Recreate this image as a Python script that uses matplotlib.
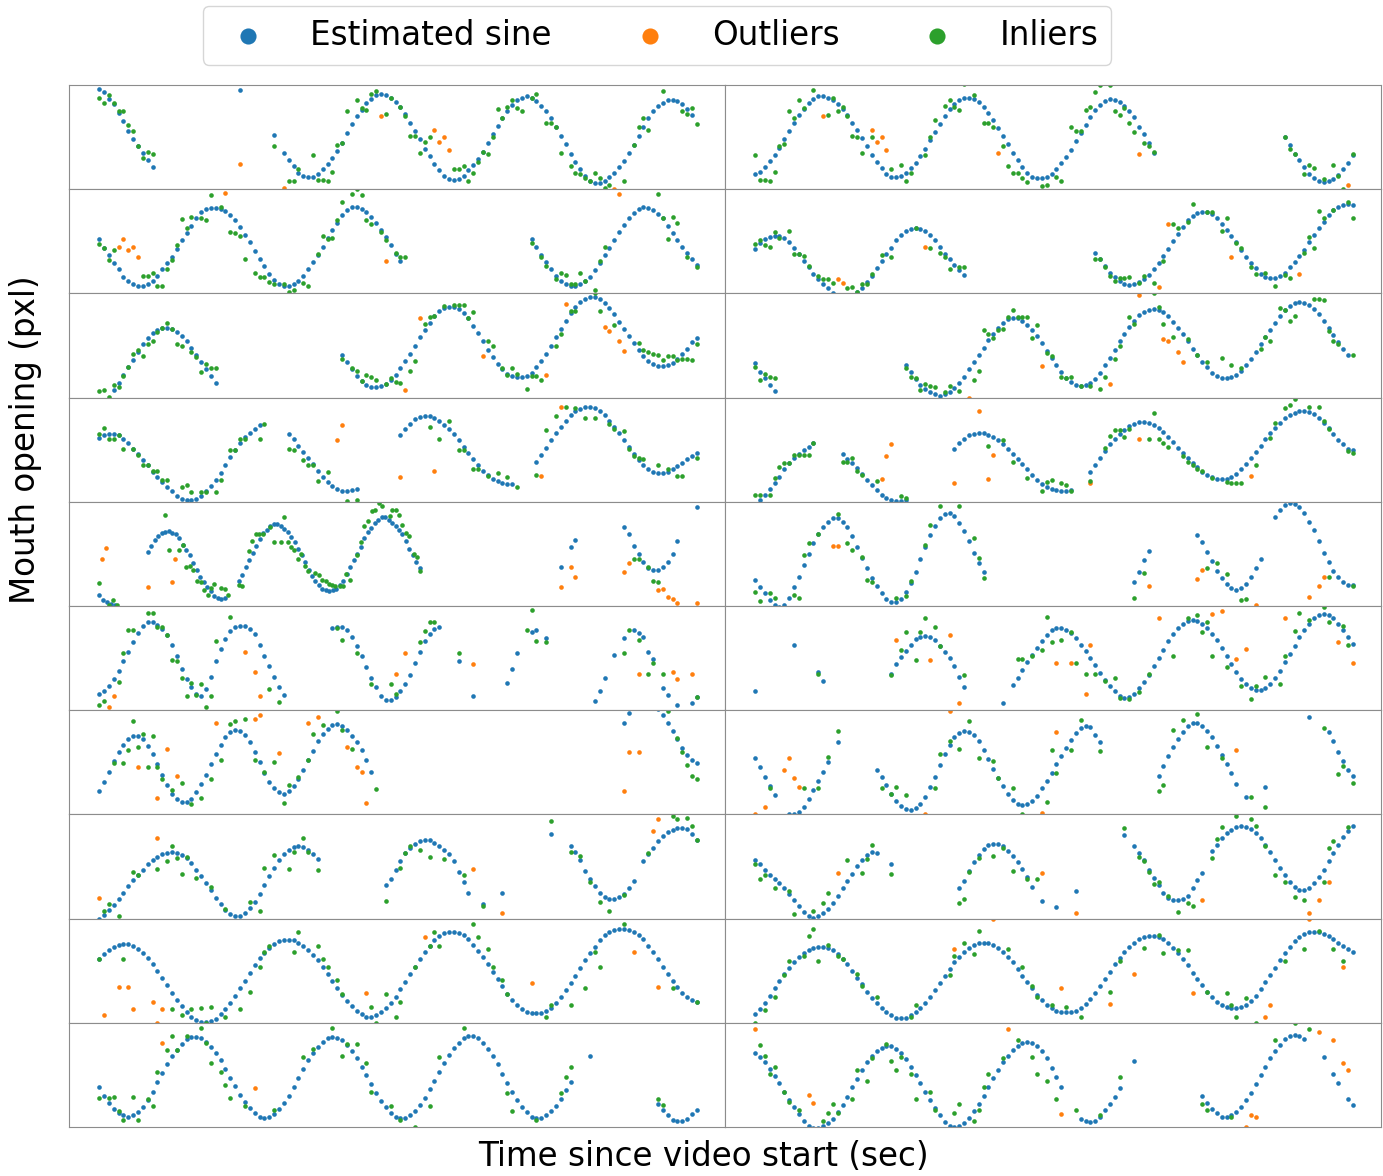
import numpy as np
import matplotlib
matplotlib.use("Agg")
import matplotlib.pyplot as plt

# frames are sampled at 30 fps; values are mouth opening in pixels
FPS = 30
N_ROWS, N_COLS = 10, 2

# estimated sine per panel (row-major): (first frame, values[, frame step]),
# None = no estimate at that frame
SINE_SEGMENTS = [
    # row 0, left
    [(0, [96, 93, 87, 82, 73, 65, 56, 48, 41, 35, 28, 21]), (29, [95]),
     (36, [52, None, 35, 28, 22, 16, 13, 12, 12, 15, 19, 24, 30, 37, 44, 54, 63, 70, 76, 83,
           87, 90, 91, 90, 88, 84, 79, 72, 64, 56, 48, 39, 32, 24, 18, 13, 10, 9, 10, 13,
           18, 23, 29, 36, 44, 53, 61, 68, 75, 81, 86, 88, 89, 88, 85, 80, 75, 68, 60, 51,
           43, 34, 26, 19, 13, 8, 6, 6, 8, 12, 16, 21, 27, 35, 42, 51, 60, 68, 75, 80,
           83, 86, 86, 85, 82, 77, 71])],
    # row 0, right
    [(0, [15, 17, 21, 27, 33, 40, 48, 56, 64, 71, 77, 83, 87, 89, 89, 88, 86, 82, 77, 71,
          64, 57, 49, 41, 33, 26, 20, 15, 12, 12, 13, 16, 20, 25, 32, 39, 47, 55, 63, 70,
          77, 82, 86, 88, 88, 87, 84, 79, 73, 66, 59, 51, 43, 35, 28, 21, 16, 12, 11, 11,
          12, 15, 19, 25, 31, 38, 46, 54, 62, 69, 76, 81, 85, 87, 86, 84, 80, 75, 69, 60,
          53, 44, 35]),
     (109, [50, 42, 34, 28, 21, 15, 11, 8, 7, 8, 10, 14, 19, 25, 33])],
    # row 1, left
    [(0, [52, 44, 37, 29, 23, 16, 12, 9, 7, 7, 9, 12, 17, 23, 29, 35, 43, 51, 58, 65,
          72, 78, 81, 82, 82, 81, 79, 75, 70, 64, 56, 49, 41, 33, 26, 19, 13, 9, 7, 7,
          9, 12, 17, 23, 30, 37, 45, 53, 61, 68, 75, 80, 83, 83, 81, 78, 73, 68, 61, 54,
          46, 38, 31]),
     (89, [52, 45, 37, 30, 23, 17, 12, 9, 7, 7, 9, 12, 16, 22, 29, 37, 44, 51, 59, 66,
           72, 77, 81, 83, 82, 80, 76, 72, 65, 58, 51, 45, 39, 33, 27])],
    # row 1, right
    [(0, [43, 48, 52, 54, 55, 55, 53, 49, 44, 38, 31, 25, 19, 14, 9, 5, 0, -3, -5, -5,
          -3, 1, 5, 11, 17, 24, 31, 38, 44, 51, 56, 60, 62, 63, 62, 60, 56, 51, 45, 38,
          33, 27, 22, 18]),
     (70, [39, 33, 26, 20, 16, 12, 9, 8, 9, 11, 14, 18, 23, 29, 36, 43, 50, 57, 64, 70,
           74, 77, 78, 78, 76, 72, 67, 61, 55, 49, 42, 35, 29, 24, 19, 16, 15, 15, 17, 20,
           25, 30, 36, 42, 49, 56, 63, 69, 75, 80, 83, 85, 86, 85])],
    # row 2, left
    [(3, [7, 14, 22, 29, 36, 44, 51, 57, 62, 65, 67, 67, 66, 63, 59, 54, 48, 41, 34, 27,
          21, 14]),
     (50, [41, 34, 27, 21, 16, 12, 10, 10, 11, 13, 17, 22, 28, 35, 42, 50, 58, 65, 72, 78,
           83, 86, 87, 87, 85, 81, 76, 69, 62, 54, 46, 39, 32, 27, 23, 21, 20, 20, 21, 24,
           29, 35, 42, 50, 58, 66, 74, 81, 87, 92, 95, 97, 97, 95, 91, 86, 80, 73, 66, 59,
           52, 46, 40, 35, 32, 30, 30, 31, 33, 37, 42, 47, 53, 57])],
    # row 2, right
    [(0, [33, 25, 19, 12, 6]),
     (31, [31, 25, 18, 12, 8, 5, 3, 2, 3, 5, 9, 14, 20, 27, 34, 41, 48, 55, 61, 67,
           72, 75, 76, 76, 74, 70, 65, 59, 52, 45, 38, 31, 25, 19, 15, 12, 11, 12, 14, 18,
           24, 31, 38, 46, 54, 61, 68, 74, 79, 82, 84, 85, 84, 82, 78, 73, 67, 61, 54, 47,
           41, 34, 29, 24, 21, 19, 19, 20, 22, 26, 31, 37, 44, 51, 58, 65, 72, 78, 84, 88,
           91, 92, 91, 89, 85, 80, 74, 67, 60, 53, 47, 41])],
    # row 3, left
    [(0, [61, 64, 65, 65, 64, 60, 56, 51, 46, 40, 35, 29, 24, 19, 14, 10, 6, 3, 2, 2,
          3, 6, 10, 15, 21, 28, 35, 43, 50, 56, 62, 66, 70, 74]),
     (39, [65, 60, 54, 48, 42, 36, 30, 24, 19, 15, 12, 10, 10, 11, 12]),
     (62, [64, 70, 75, 79, 81, 82, 82, 80, 78, 74, 70, 65, 59, 53, 47, 41, 35, 30, 26, 22,
           20, 18, 17, 17]),
     (90, [38, 45, 52, 59, 66, 72, 78, 83, 87, 89, 91, 91, 90, 87, 83, 78, 72, 66, 59, 53,
           46, 40, 35, 31, 29, 28, 28, 29, 31, 34, 37, 41, 44, 47])],
    # row 3, right
    [(1, [2, 7, 12, 18, 24, 31, 37, 42, 46, 50, 53, 56]),
     (18, [46, 41, 37, 32, 27, 21, 16, 11, 7, 4, 2, 1, 1, 2]),
     (41, [51, 56, 60, 64, 65, 66, 66, 64, 62, 59, 55, 51, 46, 41, 36, 31, 26, 21, 17, 14,
           12, 11, 10, 10, 11]),
     (69, [29, 35, 42, 49, 55, 60, 65, 69, 73, 75, 77, 77, 76, 74, 71, 67, 62, 57, 52, 47,
           42, 37, 33, 29, 26, 24, 22, 22, 22, 24, 27, 31, 36, 42, 48, 54, 60, 66, 71, 76,
           80, 83, 85, 87, 87, 86, 84, 80, 76, 71, 65, 59, 55, 51, 50])],
    # row 4, left
    [(0.03, [11, 6, 4, 2, 1], 0.8),
     (10.04, [52, 58, 63, 67, 70, 71, 72, 70, 69, 65, 59, 54, 49, 41, 35, 28, 23, 18, 14, 10,
              8, 7, 8], 0.717),
     (28.77, [24, 30, 37, 44, 51, 58, 64, 70, 73, 77, 79, 79, 77, 74, 71, 66, 61, 55, 49, 42,
              35, 29, 24, 20, 16, 15, 14, 15, 16, 20, 24, 31, 37, 44, 50, 57, 65, 71, 75, 80,
              83, 85, 85, 83, 80, 77, 73, 69, 62, 55, 49, 42, 36], 0.716),
     (95, [37, None, 57, 63]),
     (108, [76, 69, 58, 50, 42, 36, 35, 35, 37, 42, 50, 62]), (123, [95])],
    # row 4, right
    [(0, [25, 18, 12, 6, 1, -1, 1, 8, 18, 28, 39, 50, 60, 69, 76, 81, 84, 84, 81, 76,
          67, 57, 46, 36, 27, 19, 12, 7, 4, 4, 7, 13, 22, 33, 45, 57, 68, 77, 84, 88,
          89, 86, 80, 72, 62, 51, 41, 33]),
     (78, [23, 33, 44, 53]),
     (91, [68, 61, 52, 43, 34, 27, 21, 17, 15, 17, 21, 28, 36, 45]),
     (107, [85, 92, 97, 99, 98, 95, 89, 81, 73, 62, 51, 42, 34, 28, 23, 20, 20])],
    # row 5, left
    [(0, [16, 18, 23, 30, 38, 47, 56, 65, 74, 81, 85, 85, 82, 78, 72, 63, 52, 40, 30, 22,
          16, 14, 20, 32, 47, 59, 68, 76, 80, 81, 81, 78, 73, 63, 52, 42, 32, 22, 15]),
     (48, [79, 80, 80, 77, 70, 62, 52, 41, 31, 22, 14, 10, 10, 13, 18, 25, 34, 45, 56, 66,
           73, 78, 80]),
     (74, [47]), (77, [14]),
     (84, [26, 40, 55, None, None, 75, 77, None, 69]),
     (102, [9, 18, 31, None, 53, None, 69, None, 77, 74, 70, 56, 49, None, 21, 15, None, 5,
            None, None, 7, 13])],
    # row 5, right
    [(0, [18]), (8, [63]), (13, [37, 28]),
     (28, [35, 44, 51, 57, 63, 68, 70, 71, 70, 67, 62, 56, 50, 42, 32, 22]),
     (51, [7]),
     (53, [24, 31, 39, 46, 53, 60, 66, 72, 77, 79, 79, 77, 74, 69, 63, 57, 50, 43, 36, 29,
           23, 18, 14, 12, 13, 16, 21, 27, 34, 42, 50, 58, 66, 73, 79, 83, 86, 87, 86, 83,
           79, 73, 67, 60, 52, 44, 37, 30, 25, 21, 19, 19, 21, 25, 31, 38, 46, 54, 62, 70,
           77, 83, 88, 91, 92, 91, 88, 83, 77, 70, 64])],
    # row 6, left
    [(0, [22, 31, 41, 51, 60, 67, 72, 75, 75, 72, 66, 58, 48, 38, 28, 20, 15, 12, 12, 15,
          21, 29, 38, 48, 58, 67, 74, 79, 81, 80, 76, 69, 60, 50, 40, 31, 25, 21, 20, 22,
          27, 34, 43, 52, 61, 70, 77, 82, 86, 87, 85, 81, 75, 69, 62, 52, 41]),
     (108, [88, 97, 102, 105, 107, 107, 105, 101, 95, 88, 80, 72, 64, 57, 52, 49])],
    # row 6, right
    [(0, [54, 45, 36, 27, 19, None, None, 0, 0, 2, 7, 15, 23, 32, 41, 50, None, 69]),
     (25, [43, 36, 28, 20, 13, 8, 5, 4, 6, 10, 17, 26, 36, 47, 58, 67, 74, 78, 80, 79,
           76, 70, 62, 53, 44, 35, 27, 20, 14, 10, 9, 10, 13, 18, 25, 32, 40, 48, 56, 64,
           71, 78, 83, 85, 84, 76, 69]),
     (83, [37, 46, 56, 65, 72, 79, 85, 88, 88, 85, 80, 74, 66, 57, 48, 40, 29, None, 17]),
     (105, [26]),
     (114, [93, None, None, None, 79, 70, 60, 51, 43, 37])],
    # row 7, left
    [(0, [0, 3, 8, 13, 19, 25, 31, 37, 42, 47, 52, 56, 59, 62, 63, 64, 63, 61, 58, 53,
          47, 41, 34, 27, 20, 14, 8, 4, 2, 2, 5, 10, 16, 24, 32, 41, 49, 56, 62, 66,
          69, 70, 69, 66, 62, 57]),
     (59, [32, 38, 47, 55, 63, 68, 72, 74, 75, 75, 73, 70, 66, 62, 55, 45, 35, 25, None, None,
           14]),
     (83, [25]),
     (93, [81, None, None, None, 70, 64, 56, 46, 38, 31, 25, 21, 19, 19, 21, 24, 29, 36]),
     (112, [55, 62, 68, 74, 79, 83, 85, 87, 87, 86, 81, 75])],
    # row 7, right
    [(0, [56, 52, 47, 42, 38, 34, 29, 24, 18, 12, 6, 2, 1, 2, 5, 9, 15, 22, 29, 36,
          43, 50, 56, 61, 64, 63]),
     (28, [52]),
     (42, [29, 36, 46, 54, 61, 67, 71, 72, 72, 70, 65, 60, 54, 48, 40, 30, None, 17, None, None,
           11, None, None, None, 26]),
     (76, [80, None, 70, 63, 56, 47, 39, 32, 25, 20, 18, 18, 19, 22, 29, 37, 44]),
     (94, [65, 71, 77, 82, 85, 88, 89, 88, 86, 82, 77, 71, 64, 56, 49, 42, 35, 30, 27, 27,
           29, 34, 40, 47, 55, 63, 71, 78, 84, 89])],
    # row 8, left
    [(0, [61, 66, 70, 73, 75, 76, 76, 74, 71, 67, 62, 56, 50, 43, 36, 29, 22, 16, 10, 6,
          3, 1, 1, 2, 4, 8, 13, 19, 26, 33, 40, 48, 55, 62, 67, 72, 76, 78, 79, 79,
          79, 77, 74, 70, 65, 60, 54, 47, 40, 33, 27, 21, 16, 11, 8, 6, 6, 7, 10, 14,
          19, 25, 32, 39, 47, 54, 61, 68, 74, 79, 83, 86, 87, 87, 86, 84, 80, 75, 69, 63,
          56, 49, 42, 35, 28, 22, 17, 13, 10, 9, 9, 9, 11, 14, 19, 25, 31, 38, 45, 53,
          60, 67, 73, 79, 84, 87, 89, 90, 90, 89, 87, 84, 80, 74, 68, 61, 54, 47, 40, 34,
          29, 25, 22, 20])],
    # row 8, right
    [(0, [8, 13, 19, 26, 33, 40, 47, 53, 58, 63, 67, 70, 72, 73, 73, 72, 70, 66, 61, 56,
          50, 43, 37, 30, 24, 19, 14, 10, 7, 5, 5, 5, 7, 10, 14, 19, 25, 31, 38, 45,
          52, 58, 63, 68, 72, 75, 77, 77, 77, 75, 72, 68, 63, 58, 52, 45, 39, 33, 27, 22,
          17, 14, 11, 10, 10, 10, 11, 14, 18, 23, 29, 35, 42, 49, 56, 62, 68, 73, 77, 80,
          82, 83, 83, 82, 80, 77, 72, 67, 61, 55, 48, 42, 36, 30, 25, 20, 17, 15, 14, 14,
          15, 17, 21, 26, 32, 39, 46, 53, 60, 67, 73, 78, 82, 85, 87, 87, 87, 85, 83, 80,
          77, 74, 71, 68])],
    # row 9, left
    [(0, [38, 30, 23, 17, 13, 11, 10, 11, 14, 19, 26, 34, 43, 52, 60, 68, 74, 80, 84, 86,
          86, 85, 82, 77, 71, 64, 56, 47, 39, 31, 24, 18, 13, 10, 9, 10, 12, 17, 23, 30,
          38, 47, 56, 64, 71, 77, 82, 85, 86, 85, 83, 79, 73, 66, 58, 50, 41, 33, 25, 19,
          13, 10, 9, 9, 11, 15, 21, 28, 36, 44, 53, 61, 69, 76, 81, 85, 87, 87, 85, 81,
          75, 68, 60, 51, 42, 34, 26, 19, 14, 10, 9, 9, 11, 15, 20, 27, 35, 43]),
     (101, [68]),
     (115, [22, 16, 11, 7, 6, 6, 8, 12, 16])],
    # row 9, right
    [(0, [71, 67, 62, 56, 49, 42, 34, 26, 19, 12, 6, 1, -1, -1, 1, 4, 8, 14, 21, 29,
          38, 46, 55, 62, 68, 73, 76, 78, 78, 75, 71, 65, 58, 50, 42, 34, 26, 18, 11, 5,
          1, 0, 1, 4, 9, 15, 22, 30, 38, 47, 55, 62, 68, 74, 78, 81, 82, 81, 78, 73,
          66, 57, 48, 38]),
     (67, [8, 6, 5, 6, 10, 16, 22, 29, 37]),
     (78, [63]),
     (92, [30, 23, 17, 13, 10, 10, 11, 14, 19, 26, 33, 41, 50, 58, 66, 73, 79, 84, 87, 88,
           87, 84, None, None, None, 67, None, 51, 42, None, 27, 21])],
]

# measured points kept by the fit: (frame, value)
INLIER_POINTS = [
    [(0, 88), (1, 83), (2, 90), (3, 83), (4, 75), (5, 75), (6, 62), (7, 56), (8, 41), (9, 30),
     (10, 36), (11, 34), (36, 41), (39, 8), (40, 8), (41, 19), (44, 33), (45, 9), (46, 9),
     (47, 8), (48, 17), (49, 42), (50, 44), (51, 75), (53, 86), (54, 78), (55, 76), (56, 91),
     (57, 94), (59, 72), (60, 88), (62, 79), (63, 70), (64, 51), (65, 51), (66, 35), (67, 45),
     (68, 50), (73, 19), (74, 19), (75, 22), (76, 8), (77, 16), (78, 26), (79, 36), (80, 34),
     (81, 50), (82, 77), (83, 68), (84, 79), (85, 86), (86, 78), (87, 75), (88, 102), (89, 88),
     (90, 91), (92, 64), (93, 64), (94, 60), (95, 35), (97, 22), (98, 16), (99, 15), (100, 11),
     (101, 8), (102, 16), (103, 11), (104, 1), (105, 4), (108, 8), (110, 42), (111, 60),
     (112, 68), (113, 57), (116, 94), (117, 102), (119, 102), (120, 75), (121, 72), (122, 78),
     (123, 63)],
    [(0, 33), (1, 9), (2, 9), (3, 8), (4, 17), (5, 41), (6, 43), (7, 75), (8, 68), (9, 86),
     (10, 78), (12, 95), (15, 71), (16, 88), (17, 75), (18, 79), (19, 70), (20, 51), (21, 50),
     (22, 35), (24, 50), (28, 19), (30, 23), (31, 8), (32, 16), (35, 33), (36, 50), (37, 66),
     (39, 80), (40, 86), (41, 79), (42, 76), (43, 101), (45, 90), (47, 64), (48, 64), (49, 60),
     (51, 41), (52, 22), (53, 16), (54, 16), (55, 11), (56, 7), (59, 3), (60, 4), (62, 12),
     (63, 8), (65, 60), (66, 56), (67, 56), (68, 76), (69, 79), (70, 93), (71, 100), (73, 100),
     (74, 75), (75, 71), (76, 78), (77, 64), (78, 55), (80, 44), (81, 41), (82, 36), (109, 50),
     (110, 39), (111, 34), (113, 15), (114, 23), (115, 20), (117, 10), (119, 23), (120, 13),
     (121, 0), (123, 34)],
    [(0, 47), (1, 44), (2, 32), (3, 42), (9, 17), (10, 17), (11, 20), (12, 7), (13, 7), (14, 23),
     (15, 32), (16, 46), (17, 71), (18, 63), (19, 73), (21, 72), (22, 70), (23, 94), (25, 83),
     (27, 59), (28, 58), (29, 55), (30, 33), (32, 20), (33, 16), (34, 16), (35, 11), (36, 9),
     (38, 9), (39, 1), (40, 3), (42, 10), (43, 7), (45, 38), (46, 55), (47, 52), (48, 53),
     (49, 70), (50, 88), (52, 95), (53, 100), (54, 94), (55, 70), (56, 67), (58, 59), (59, 51),
     (61, 39), (62, 35), (63, 35), (89, 48), (91, 35), (92, 26), (94, 14), (95, 20), (96, 18),
     (97, 9), (98, 9), (99, 20), (100, 12), (102, 3), (103, 31), (104, 45), (115, 95), (116, 72),
     (117, 52), (118, 73), (119, 68), (121, 35), (123, 25)],
    [(0, 47), (1, 51), (2, 46), (3, 45), (4, 59), (5, 53), (7, 60), (8, 38), (9, 38), (10, 36),
     (11, 26), (13, 17), (14, 14), (15, 14), (16, 10), (19, 5), (20, 6), (21, 1), (22, 9),
     (23, 9), (24, 19), (26, 37), (28, 35), (33, 63), (36, 44), (38, 39), (39, 35), (40, 23),
     (42, 25), (43, 25), (70, 33), (71, 33), (72, 25), (73, 17), (74, 12), (75, 15), (76, 15),
     (77, 16), (79, 10), (80, 17), (82, 10), (84, 31), (86, 67), (87, 63), (89, 69), (90, 86),
     (93, 78), (94, 78), (96, 60), (97, 72), (99, 48), (100, 44), (102, 25), (103, 19),
     (105, 20), (107, 7), (109, 18), (110, 15), (113, 39), (114, 54), (115, 44), (116, 79),
     (117, 72), (119, 80), (122, 88), (123, 72)],
    [(0, 6), (1, 7), (2, 1), (3, 12), (4, 10), (5, 21), (6, 29), (7, 42), (8, 46), (9, 40),
     (10, 51), (11, 54), (12, 63), (13, 67), (14, 72), (15, 66), (16, 51), (17, 50), (19, 44),
     (20, 39), (21, 25), (22, 32), (23, 28), (24, 28), (50, 37), (52, 28), (53, 26), (54, 16),
     (55, 22), (56, 20), (57, 17), (59, 13), (60, 19), (61, 15), (62, 14), (64, 26), (65, 35),
     (67, 71), (68, 77), (69, 78), (71, 88), (73, 89), (74, 89), (75, 89), (76, 76), (77, 82),
     (80, 54), (81, 50), (83, 28), (84, 22), (85, 28), (86, 23), (88, 8), (89, 21), (90, 21),
     (91, 17), (94, 50), (95, 61), (97, 83), (98, 83), (102, 100), (103, 83), (106, 70),
     (111, 52), (112, 46), (113, 44), (114, 42), (115, 41), (116, 36), (117, 40), (118, 40),
     (119, 36), (120, 37), (121, 37), (122, 36), (123, 51)],
    [(0, 29), (1, 17), (2, 23), (3, 20), (4, 19), (31, 28), (32, 20), (33, 19), (34, 7),
     (35, 13), (36, 11), (37, 10), (39, 5), (40, 11), (42, 6), (45, 17), (46, 26), (47, 65),
     (48, 61), (49, 57), (50, 65), (51, 66), (52, 77), (53, 84), (54, 77), (55, 77), (56, 77),
     (57, 57), (58, 70), (60, 43), (61, 40), (63, 20), (64, 19), (65, 20), (67, 11), (69, 11),
     (71, 8), (72, 20), (74, 37), (75, 50), (77, 77), (78, 71), (82, 100), (83, 87), (84, 71),
     (86, 58), (89, 56), (91, 41), (93, 34), (96, 38), (98, 31), (100, 28), (104, 47),
     (105, 58), (106, 54), (108, 86), (109, 84), (110, 74), (111, 78), (115, 95), (116, 95),
     (117, 94), (118, 64), (119, 54), (120, 51), (123, 41)],
    [(0, 65), (1, 71), (2, 60), (3, 60), (4, 64), (5, 51), (7, 51), (8, 45), (9, 35), (10, 35),
     (11, 30), (12, 30), (13, 21), (14, 21), (17, 14), (18, 16), (19, 9), (21, 9), (22, 9),
     (24, 9), (25, 21), (27, 50), (28, 50), (29, 60), (30, 60), (33, 60), (34, 75), (39, 51),
     (40, 50), (42, 40), (43, 35), (44, 35), (45, 20), (47, 29), (51, 1), (53, 2), (68, 72),
     (70, 60), (72, 78), (74, 50), (75, 50), (77, 31), (78, 31), (80, 25), (82, 28), (84, 24),
     (86, 14), (90, 26), (92, 69), (94, 82), (96, 91), (98, 90), (100, 80), (102, 80),
     (105, 75), (106, 70), (108, 68), (109, 51), (110, 44), (111, 42), (112, 41), (115, 35),
     (117, 31), (119, 25), (120, 25), (123, 42)],
    [(0, 7), (1, 7), (3, 7), (4, 23), (5, 33), (6, 37), (7, 37), (8, 45), (9, 45), (10, 45),
     (11, 45), (12, 56), (18, 38), (19, 38), (20, 42), (21, 30), (22, 26), (25, 20), (30, 6),
     (31, 4), (48, 54), (51, 59), (53, 38), (56, 23), (59, 10), (60, 19), (61, 21), (63, 18),
     (64, 16), (65, 10), (69, 20), (72, 52), (73, 63), (74, 69), (75, 69), (76, 62), (77, 70),
     (81, 60), (82, 85), (83, 60), (84, 56), (85, 53), (88, 44), (89, 38), (90, 35), (91, 31),
     (92, 30), (94, 23), (97, 19), (98, 18), (99, 18), (100, 18), (103, 35), (106, 61),
     (107, 76), (109, 90), (110, 93), (111, 99), (114, 91), (116, 91), (117, 78), (118, 70),
     (122, 49), (123, 47)],
    [(0.0, 22), (2.0, 1), (2.9, 6), (3.6, 1), (13.6, 87), (14.4, 54), (16.4, 54), (17.2, 59),
     (17.9, 37), (18.6, 38), (19.4, 35), (20.2, 24), (20.9, 23), (21.6, 15), (22.3, 11),
     (23.0, 17), (23.6, 21), (25.1, 17), (25.8, 16), (26.6, 11), (28.8, 20), (29.5, 19),
     (30.8, 53), (31.5, 62), (32.2, 69), (32.9, 69), (33.7, 69), (35.2, 76), (35.9, 61),
     (37.4, 61), (38.1, 85), (38.8, 61), (39.5, 57), (40.2, 54), (40.9, 45), (41.6, 50),
     (42.4, 38), (43.0, 34), (44.4, 32), (45.2, 30), (45.9, 25), (46.6, 24), (47.3, 21),
     (48.0, 20), (48.6, 19), (49.5, 19), (50.2, 19), (50.9, 31), (51.6, 25), (53.0, 49),
     (53.8, 61), (54.6, 77), (55.3, 82), (56.1, 91), (56.8, 92), (57.6, 99), (58.3, 96),
     (59.8, 86), (60.3, 92), (61.0, 92), (61.7, 87), (62.4, 78), (63.1, 70), (63.8, 67),
     (64.7, 50), (65.4, 47), (66.1, 34), (110, 45), (111, 45), (113, 37), (114, 24),
     (115, 23)],
    [(0, 13), (1, 5), (3, 12), (4, 8), (8, 11), (9, 8), (10, 49), (11, 60), (13, 69), (17, 88),
     (19, 60), (20, 54), (22, 47), (23, 25), (24, 23), (29, 8), (31, 10), (32, 24), (35, 59),
     (36, 78), (38, 96), (42, 96), (45, 65), (46, 46), (47, 27), (78, 8), (80, 32), (93, 36),
     (95, 41), (97, 31), (100, 6), (101, 7), (118, 28), (123, 19)],
    [(0, 5), (1, 9), (4, 27), (5, 55), (6, 77), (7, 77), (10, 93), (11, 93), (12, 80), (13, 80),
     (14, 72), (15, 48), (16, 47), (17, 31), (18, 14), (19, 26), (20, 15), (21, 25), (22, 3),
     (23, 14), (24, 66), (27, 89), (35, 20), (37, 8), (49, 79), (50, 67), (53, 55), (56, 25),
     (60, 25), (61, 16), (66, 65), (67, 76), (68, 85), (69, 85), (74, 55), (88, 77), (89, 96),
     (90, 66), (92, 65), (108, 55), (109, 77), (111, 67), (113, 35), (114, 45), (116, 35),
     (123, 13)],
    [(13, 35), (28, 34), (30, 58), (31, 75), (33, 48), (34, 75), (35, 88), (37, 80), (38, 62),
     (43, 34), (54, 49), (55, 49), (57, 52), (59, 58), (60, 89), (61, 65), (63, 67), (65, 75),
     (66, 45), (68, 35), (70, 35), (72, 28), (74, 31), (75, 12), (77, 11), (79, 17), (81, 35),
     (86, 52), (89, 88), (91, 91), (92, 75), (93, 85), (94, 52), (97, 41), (100, 23), (102, 11),
     (103, 23), (105, 32), (108, 25), (109, 52), (111, 76), (112, 93), (114, 87), (117, 99),
     (118, 85), (121, 81), (122, 63)],
    [(3, 49), (5, 49), (6, 62), (7, 90), (8, 65), (9, 77), (10, 45), (11, 75), (12, 45),
     (13, 34), (15, 23), (17, 30), (19, 10), (21, 16), (23, 34), (25, 52), (27, 87), (28, 90),
     (30, 92), (32, 52), (34, 41), (36, 50), (38, 11), (39, 28), (41, 36), (43, 52), (44, 77),
     (46, 86), (49, 99), (50, 81), (52, 63), (57, 24), (117, 99), (119, 73), (120, 60),
     (121, 47), (122, 37), (123, 34)],
    [(3, 25), (10, 25), (13, 25), (15, 55), (17, 80), (26, 25), (28, 20), (29, 26), (31, 19),
     (37, 25), (38, 58), (40, 70), (42, 63), (44, 90), (46, 54), (49, 51), (50, 35), (53, 25),
     (55, 0), (60, 12), (61, 62), (62, 40), (65, 62), (67, 91), (71, 61), (83, 22), (84, 28),
     (86, 81), (88, 91), (91, 96), (93, 65), (96, 54), (102, 17), (105, 7), (117, 83),
     (120, 39), (121, 46), (123, 30)],
    [(1, 7), (2, 14), (4, 2), (7, 45), (8, 42), (12, 48), (14, 55), (15, 70), (16, 58),
     (17, 43), (18, 59), (20, 39), (23, 30), (26, 9), (31, 16), (33, 7), (34, 49), (36, 61),
     (39, 48), (40, 64), (42, 77), (43, 64), (45, 47), (59, 17), (62, 49), (63, 63), (64, 70),
     (66, 66), (68, 59), (71, 57), (75, 42), (79, 12), (93, 94), (97, 64), (99, 60), (101, 35),
     (103, 16), (105, 7), (108, 23), (113, 63), (118, 98), (119, 96), (121, 97), (122, 89),
     (123, 75)],
    [(0, 52), (1, 38), (2, 42), (4, 29), (7, 26), (8, 4), (12, 7), (14, 15), (15, 25), (19, 56),
     (22, 44), (23, 57), (24, 71), (28, 43), (42, 15), (43, 19), (44, 45), (46, 58), (49, 60),
     (51, 68), (53, 46), (56, 38), (58, 38), (76, 87), (79, 59), (80, 55), (81, 45), (82, 33),
     (83, 35), (85, 22), (87, 6), (89, 15), (90, 12), (94, 58), (95, 76), (96, 88), (99, 98),
     (102, 96), (103, 89), (105, 70), (107, 42), (109, 35), (111, 21), (113, 18), (117, 35),
     (118, 68), (119, 74), (122, 88)],
    [(0, 61), (5, 61), (15, 13), (17, 7), (19, 13), (21, 14), (22, 0), (23, 15), (26, 6),
     (29, 13), (31, 30), (33, 54), (34, 68), (35, 74), (40, 68), (41, 87), (45, 74), (46, 61),
     (47, 54), (49, 41), (50, 28), (56, 15), (57, 0), (59, 28), (61, 6), (62, 20), (65, 54),
     (68, 74), (69, 87), (70, 74), (77, 95), (78, 82), (80, 71), (81, 54), (83, 41), (84, 28),
     (92, 6), (93, 17), (97, 17), (100, 33), (102, 68), (103, 54), (108, 95), (118, 33),
     (123, 20)],
    [(0, 0), (2, 12), (4, 25), (6, 46), (7, 59), (10, 64), (11, 83), (12, 90), (13, 59),
     (15, 75), (17, 64), (18, 61), (21, 47), (22, 35), (25, 25), (32, 6), (33, 17), (40, 46),
     (41, 64), (43, 77), (45, 66), (46, 88), (52, 71), (55, 54), (57, 35), (58, 25), (61, 17),
     (64, 15), (67, 6), (73, 30), (75, 59), (80, 72), (83, 84), (84, 67), (87, 70), (89, 70),
     (93, 30), (97, 29), (98, 17), (99, 6), (101, 24), (103, 0), (109, 59), (113, 71),
     (116, 88), (119, 71), (121, 59)],
    [(0, 28), (2, 28), (3, 29), (4, 15), (5, 7), (7, 29), (8, 7), (10, 27), (11, 20), (12, 53),
     (14, 74), (15, 87), (16, 74), (18, 87), (21, 95), (22, 81), (23, 61), (25, 53), (26, 40),
     (27, 28), (30, 20), (36, 16), (42, 67), (44, 75), (48, 95), (50, 68), (51, 80), (53, 80),
     (55, 61), (56, 34), (60, 20), (62, 7), (65, 0), (68, 20), (70, 67), (75, 95), (84, 33),
     (85, 15), (90, 7), (95, 33), (96, 48), (97, 58), (115, 27), (116, 21)],
    [(1, 79), (2, 68), (3, 51), (4, 58), (6, 34), (7, 24), (9, 16), (14, 6), (15, 13), (16, 22),
     (17, 13), (20, 27), (21, 55), (23, 44), (24, 66), (27, 80), (28, 63), (29, 55), (30, 67),
     (32, 51), (33, 27), (36, 34), (37, 16), (41, 13), (42, 22), (45, 6), (46, 16), (47, 38),
     (48, 51), (51, 66), (54, 83), (57, 67), (58, 51), (60, 44), (62, 27), (66, 16), (71, 11),
     (75, 48), (92, 22), (93, 16), (98, 10), (107, 83), (111, 100), (114, 94)],
]

# measured points rejected by the fit: (frame, value)
OUTLIER_POINTS = [
    [(29, 24), (38, 1), (58, 70), (69, 57), (70, 45), (71, 50), (72, 38), (106, 0)],
    [(14, 70), (24, 57), (25, 45), (26, 50), (27, 38), (50, 35), (79, 34), (122, 4)],
    [(4, 45), (5, 52), (6, 42), (7, 45), (8, 35), (26, 96), (59, 31), (107, 95)],
    [(17, 14), (18, 10), (35, 45), (83, 6), (85, 67), (98, 35), (112, 19)],
    [(63, 7), (66, 76), (79, 40), (92, 22), (96, 90), (104, 68), (105, 64), (107, 54),
     (108, 45)],
    [(44, 0), (59, 30), (73, 13), (79, 98), (84, 56), (85, 54), (87, 44), (88, 34)],
    [(49, 59), (50, 74), (62, 24), (69, 30), (91, 25), (95, 91)],
    [(26, 22), (27, 44), (28, 55), (41, 18), (46, 87), (48, 22), (49, 45), (69, 18), (79, 60),
     (102, 25)],
    [(0.65, 45), (1.5, 56), (10.0, 18), (15.0, 23), (15.7, 45), (95, 18), (97, 37), (98, 28),
     (108, 33), (109, 41), (115, 15), (116, 16), (117, 9), (118, 7), (119, 3), (123, 3)],
    [(16, 58), (17, 58), (81, 19), (91, 26), (92, 35), (103, 1), (114, 9), (116, 19),
     (117, 28)],
    [(2, 3), (3, 14), (30, 56), (32, 37), (33, 14), (61, 35), (63, 55), (77, 44), (111, 35),
     (118, 37), (119, 30), (122, 35)],
    [(29, 67), (36, 48), (40, 72), (42, 7), (62, 45), (65, 45), (68, 16), (69, 63), (83, 88),
     (94, 92), (96, 95), (99, 49), (101, 59), (109, 88), (120, 65), (123, 45)],
    [(8, 45), (12, 16), (14, 63), (16, 37), (24, 88), (32, 92), (33, 95), (37, 59), (43, 88),
     (45, 93), (51, 65), (53, 45), (54, 41), (55, 11), (108, 22), (109, 60), (111, 60)],
    [(0, 0), (2, 7), (6, 43), (7, 54), (8, 35), (9, 26), (35, 0), (40, 99), (59, 1), (62, 79),
     (99, 62)],
    [(0, 20), (12, 77), (77, 48), (83, 5), (114, 84), (115, 96)],
    [(17, 44), (59, 44), (66, 5), (92, 18), (114, 5), (116, 18), (118, 35)],
    [(1, 7), (4, 34), (6, 34), (7, 13), (11, 20), (12, 0), (13, 13), (55, 29), (67, 82),
     (89, 38), (110, 68), (115, 34)],
    [(41, 71), (49, 100), (63, 33), (73, 18), (78, 47), (90, 29), (105, 6), (106, 17),
     (114, 100), (121, 54)],
    [(13, 81), (32, 37)],
    [(0, 94), (11, 31), (12, 23), (52, 94), (63, 12), (101, 0), (102, 11), (103, 10),
     (116, 91), (119, 83), (121, 61), (122, 55)],
]

LABELS = ["Estimated sine", "Outliers", "Inliers"]
COLORS = ["tab:blue", "tab:orange", "tab:green"]


def sine_points(segments):
    """Flatten (start, values[, step]) segments into time / value arrays."""
    t, v = [], []
    for seg in segments:
        start, values = seg[0], seg[1]
        step = seg[2] if len(seg) > 2 else 1
        for k, val in enumerate(values):
            if val is not None:
                t.append((start + k * step) / FPS)
                v.append(val)
    return np.array(t), np.array(v)


def pair_points(points):
    if not points:
        return np.array([]), np.array([])
    frames, values = zip(*points)
    return np.array(frames) / FPS, np.array(values)


fig, axes = plt.subplots(N_ROWS, N_COLS, figsize=(13.83, 11.76), dpi=100)
fig.subplots_adjust(left=0.0499, right=0.9986, top=0.9277, bottom=0.0417,
                    wspace=0, hspace=0)

marker_size = 11
handles = []
for i, ax in enumerate(axes.flat):
    st, sv = sine_points(SINE_SEGMENTS[i])
    ot, ov = pair_points(OUTLIER_POINTS[i])
    it, iv = pair_points(INLIER_POINTS[i])
    h1 = ax.scatter(st, sv, s=marker_size, color=COLORS[0], linewidths=0)
    h2 = ax.scatter(ot, ov, s=marker_size, color=COLORS[1], linewidths=0)
    h3 = ax.scatter(it, iv, s=marker_size, color=COLORS[2], linewidths=0)
    if i == 0:
        handles = [h1, h2, h3]
    ax.set_xlim(-6.2 / FPS, 128.8 / FPS)
    ax.set_ylim(0, 100)
    ax.set_xticks([])
    ax.set_yticks([])
    for sp in ax.spines.values():
        sp.set_color("#8c8c8c")
        sp.set_linewidth(0.8)

fig.legend(handles, LABELS, loc="upper center", bbox_to_anchor=(0.475, 0.995),
           ncol=3, fontsize=23.5, markerscale=3.5, handlelength=2.0,
           handletextpad=0.9, columnspacing=2.0, borderaxespad=0)

fig.text(26 / 1383, 1 - 440 / 1176, "Mouth opening (pxl)", rotation=90,
         ha="center", va="center", fontsize=23.5)
fig.text(703 / 1383, 1 - 1157 / 1176, "Time since video start (sec)",
         ha="center", va="center", fontsize=23.5)

fig.savefig("out.png", dpi=100)
plt.close(fig)
